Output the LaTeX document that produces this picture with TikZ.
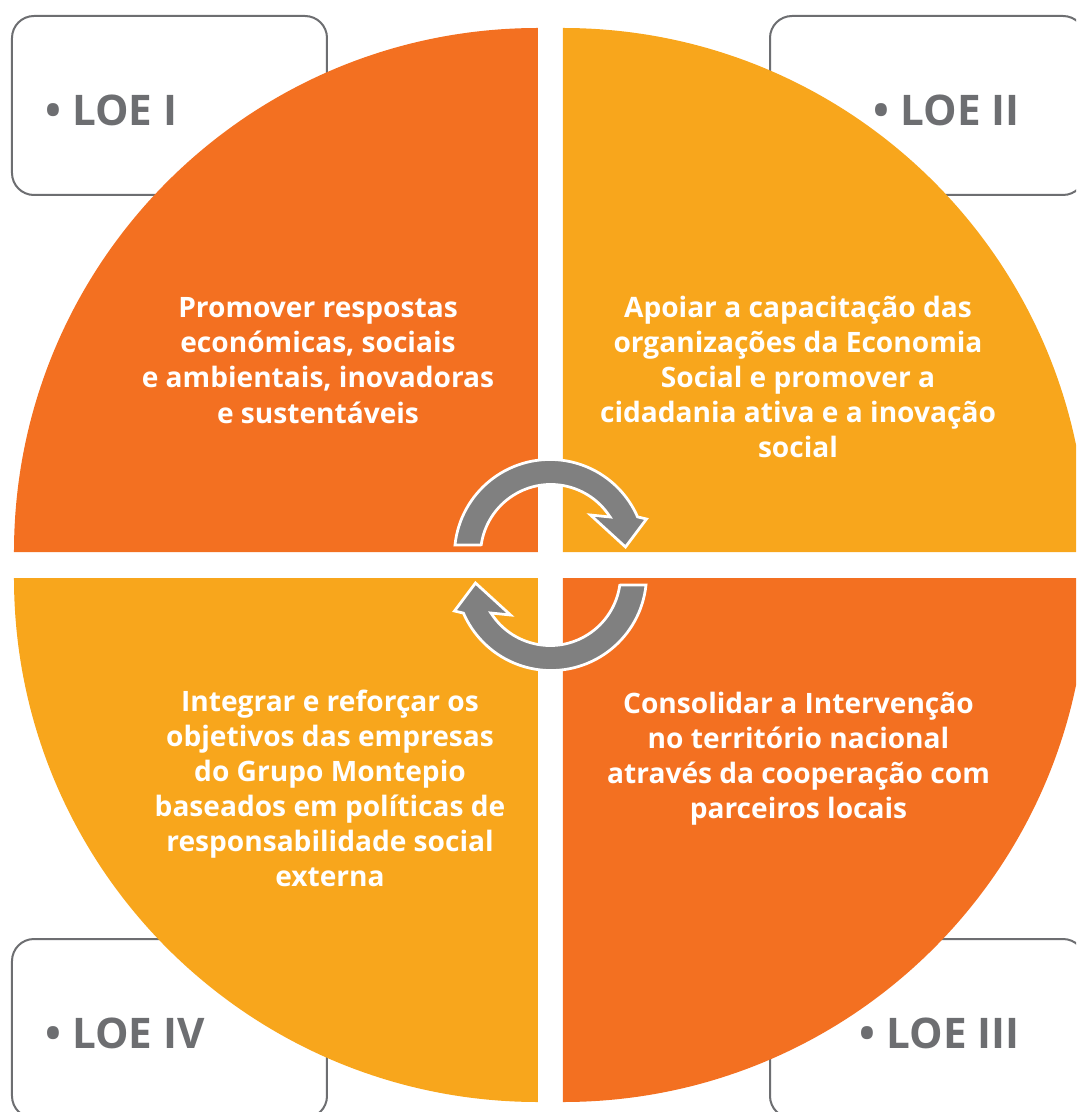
\documentclass[tikz,border=0pt]{standalone}
\usepackage{fontspec}
\setmainfont{Open Sans}
\usepackage{tikz}
\usetikzlibrary{calc}
\definecolor{loeorange}{RGB}{243,112,33}
\definecolor{loeyellow}{RGB}{248,166,28}
\definecolor{loegray}{RGB}{109,110,113}
\definecolor{arrowgray}{RGB}{128,128,128}
\tikzstyle{loebox}=[draw=loegray, line width=0.04cm, rounded corners=0.44cm, fill=white]
\tikzstyle{loelabel}=[inner sep=0pt, text=loegray, font=\fontsize{24}{28}\selectfont\bfseries]
\tikzstyle{goal}=[inner sep=0pt, text=white, align=center, font=\fontsize{16}{20}\selectfont\bfseries]
\tikzstyle{turning}=[fill=arrowgray, draw=white, line width=0.055cm, line join=miter]
\newcommand{\quadrant}[3]{
 \fill[#1] #2 -- ++(#3:524) arc (#3:#3+90:524) -- cycle;
}
\newcommand{\turnarrow}[1]{
 \begin{scope}[rotate=#1, shift={(0,10)}]
 \filldraw[turning] (-70.3,10) -- (-95.5,10) arc (174:23.5:95.5) -- (96,36)
  -- (75,8) -- (40,40) -- (59.6,38) arc (32.5:171.8:70.3) -- cycle;
 \end{scope}
}

\begin{document}
\begin{tikzpicture}[x=0.02cm, y=0.02cm]
 \useasboundingbox (-550.5,-547) rectangle (525.5,565);
 \clip (-550.5,-547) rectangle (525.5,565);
%
 \draw[loebox] (-538.5,370) rectangle (-223.5,549);
 \draw[loebox] (219.5,370) rectangle (534.5,549);
 \draw[loebox] (-538.5,-374) rectangle (-223.5,-553);
 \draw[loebox] (219.5,-374) rectangle (534.5,-553);
 \node (loe1) [loelabel, anchor=base west] at (-505.5,439) {• LOE I};
 \node (loe2) [loelabel, anchor=base east] at (469.5,439) {• LOE II};
 \node (loe4) [loelabel, anchor=base west] at (-505.5,-483) {• LOE IV};
 \node (loe3) [loelabel, anchor=base east] at (469.5,-483) {• LOE III};
%
 \quadrant{loeorange}{(-12.5,13)}{90}
 \quadrant{loeyellow}{(12.5,13)}{0}
 \quadrant{loeyellow}{(-12.5,-13)}{180}
 \quadrant{loeorange}{(12.5,-13)}{270}
%
 \turnarrow{0}
 \turnarrow{180}
%
 \node (goal1) [goal] at (-232.5,204.5) {Promover respostas\\econ\'omicas, sociais\\e ambientais, inovadoras\\e sustent\'aveis};
 \node (goal2) [goal] at (247.5,188) {Apoiar a capacita\c{c}\~ao das\\organiza\c{c}\~oes da Economia\\Social e promover a\\cidadania ativa e a inova\c{c}\~ao\\social};
 \node (goal4) [goal] at (-220.5,-223.5) {Integrar e refor\c{c}ar os\\objetivos das empresas\\do Grupo Montepio\\baseados em pol\'iticas de\\responsabilidade social\\externa};
 \node (goal3) [goal] at (248,-193.5) {Consolidar a Interven\c{c}\~ao\\no territ\'orio nacional\\atrav\'es da coopera\c{c}\~ao com\\parceiros locais};
\end{tikzpicture}
\end{document}
